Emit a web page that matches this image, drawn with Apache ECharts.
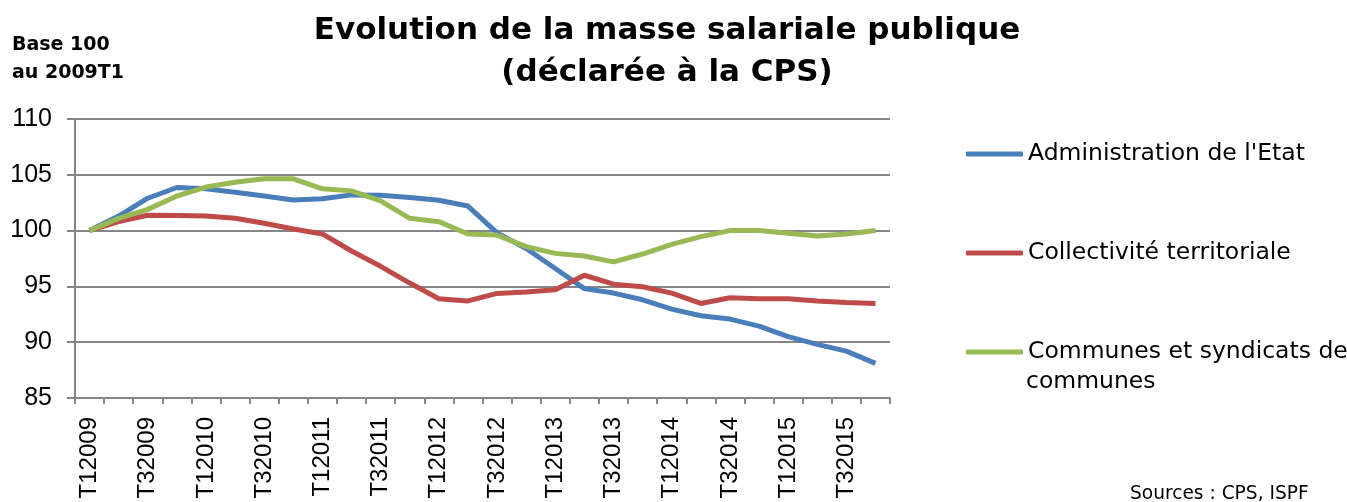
<!DOCTYPE html>
<html><head><meta charset="utf-8">
<script src="https://cdn.jsdelivr.net/npm/echarts@6/dist/echarts.min.js"></script>
<style>html,body{margin:0;padding:0;background:#fff}#c{width:1347px;height:502px}</style>
</head><body><div id="c"></div>
<script>
const categories = [];
const years = [2009,2010,2011,2012,2013,2014,2015];
for (const y of years) for (let q = 1; q <= 4; q++) categories.push('T' + q + y);

const etat = [100,101.3,102.9,103.86,103.74,103.44,103.1,102.75,102.85,103.2,103.17,102.96,102.72,102.2,
  99.8,98.4,96.6,94.8,94.4,93.8,92.96,92.37,92.07,91.44,90.5,89.8,89.2,88.1];
const collectivite = [100,100.8,101.38,101.35,101.3,101.1,100.66,100.15,99.7,98.17,96.8,95.3,93.9,93.7,
  94.37,94.5,94.7,96.0,95.2,94.97,94.4,93.47,93.98,93.9,93.9,93.7,93.56,93.47];
const communes = [100,101.1,101.9,103.1,103.9,104.34,104.64,104.64,103.74,103.56,102.66,101.1,100.8,99.7,
  99.6,98.56,97.96,97.72,97.2,97.9,98.77,99.46,100,100,99.76,99.52,99.7,100];

const names = ["Administration de l'Etat", "Collectivité territoriale", "Communes et syndicats de communes"];
const colors = ['#4a7ebb', '#be4b48', '#98b954'];

const chart = echarts.init(document.getElementById('c'));
const legendText = {fontFamily: 'DejaVu Sans', fontSize: 23.5, color: '#000', lineHeight: 30};
function mkLegend(i, top) {
  return {
    data: [names[i]], left: 966, top: top, padding: 0, icon: 'roundRect', itemWidth: 57, itemHeight: 5,
    itemGap: 0, textStyle: legendText, selectedMode: false,
    formatter: n => n === names[2] ? 'Communes et syndicats de' : n
  };
}
chart.setOption({
  animation: false,
  title: [
    {text: 'Evolution de la masse salariale publique\n(déclarée à la CPS)', left: 667, textAlign: 'center', top: 10, padding: 0,
     textStyle: {fontFamily: 'DejaVu Sans', fontWeight: 'bold', fontSize: 31, lineHeight: 42, color: '#000'}},
    {text: 'Base 100\nau 2009T1', left: 12, top: 31, padding: 0,
     textStyle: {fontFamily: 'DejaVu Sans', fontWeight: 'bold', fontSize: 19, lineHeight: 28, color: '#000'}},
    {text: 'communes', left: 1026, top: 367, padding: 0,
     textStyle: {fontFamily: 'DejaVu Sans', fontWeight: 'normal', fontSize: 23.5, lineHeight: 30, color: '#000'}},
    {text: 'Sources : CPS, ISPF', left: 1130, top: 485, padding: 0,
     textStyle: {fontFamily: 'DejaVu Sans', fontWeight: 'normal', fontSize: 18.6, color: '#000'}}
  ],
  legend: [mkLegend(0, 139), mkLegend(1, 238), mkLegend(2, 337)],
  grid: {left: 75, right: 457, top: 119, bottom: 104},
  xAxis: {
    type: 'category', data: categories, boundaryGap: true,
    axisLine: {lineStyle: {color: '#868686', width: 2}},
    axisTick: {show: true, interval: 0, length: 6, lineStyle: {color: '#868686', width: 2}},
    axisLabel: {interval: 1, rotate: 90, margin: 19, fontFamily: 'Liberation Sans', fontSize: 24, color: '#000'}
  },
  yAxis: {
    type: 'value', min: 85, max: 110, interval: 5,
    axisLine: {show: true, lineStyle: {color: '#868686', width: 2}},
    axisTick: {show: true, length: 8, lineStyle: {color: '#868686', width: 2}},
    splitLine: {lineStyle: {color: '#868686', width: 2}},
    axisLabel: {margin: 23, fontFamily: 'Liberation Sans', fontSize: 25, color: '#000'}
  },
  series: [
    {name: names[0], type: 'line', data: etat, color: colors[0], symbol: 'none', lineStyle: {width: 5}},
    {name: names[1], type: 'line', data: collectivite, color: colors[1], symbol: 'none', lineStyle: {width: 5}},
    {name: names[2], type: 'line', data: communes, color: colors[2], symbol: 'none', lineStyle: {width: 5}}
  ]
});
</script></body></html>
